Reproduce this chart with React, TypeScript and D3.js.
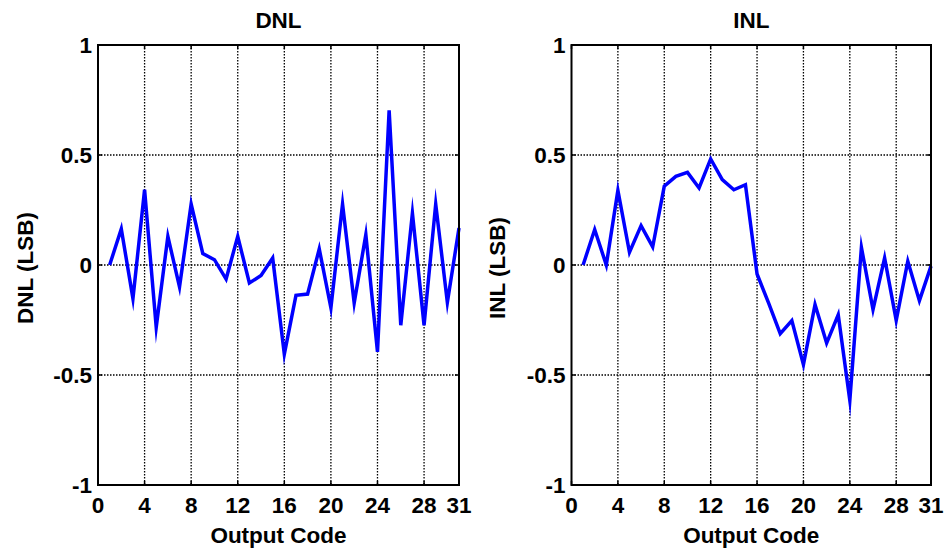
import React from "react";
import * as d3 from "d3";

const codes: number[] = d3.range(1, 32);
const dnlValues: number[] = [
  0, 0.164, -0.153, 0.342, -0.283, 0.13, -0.1, 0.277, 0.052, 0.024,
  -0.064, 0.13, -0.082, -0.048, 0.032, -0.405, -0.138, -0.132, 0.073, -0.195,
  0.277, -0.173, 0.138, -0.395, 0.703, -0.274, 0.236, -0.274, 0.277, -0.17, 0.168,
];
const inlValues: number[] = [
  0, 0.161, 0, 0.339, 0.058, 0.179, 0.082, 0.358, 0.403, 0.421,
  0.35, 0.482, 0.388, 0.342, 0.365, -0.041, -0.173, -0.312, -0.253, -0.453,
  -0.18, -0.355, -0.226, -0.615, 0.08, -0.203, 0.032, -0.252, 0.017, -0.162, -0.005,
];
const xTicks: number[] = [0, 4, 8, 12, 16, 20, 24, 28, 31];
const yTicks: number[] = [-1, -0.5, 0, 0.5, 1];
const xDomain: [number, number] = [0, 31];
const yDomain: [number, number] = [-1, 1];

const FONT = "'Liberation Sans', Arial, Helvetica, sans-serif";
const FS = 22.5;

type PanelProps = {
  title: string;
  yLabel: string;
  values: number[];
  left: number;
  right: number;
  top: number;
  bottom: number;
  yLabelX: number;
};

function Panel({ title, yLabel, values, left, right, top, bottom, yLabelX }: PanelProps) {
  const x = d3.scaleLinear().domain(xDomain).range([left, right]);
  const y = d3.scaleLinear().domain(yDomain).range([bottom, top]);
  const line = d3
    .line<number>()
    .x((_, i) => x(codes[i]))
    .y((d) => y(d));
  const tickLen = 4;
  const fmt = (v: number) => (v === 0 ? "0" : String(v));
  return (
    <g>
      {xTicks
        .filter((t) => t > xDomain[0] && t < xDomain[1])
        .map((t) => (
          <line key={"gx" + t} x1={x(t)} x2={x(t)} y1={top} y2={bottom} stroke="#000" strokeWidth={1.3} strokeDasharray="1.5,1.5" />
        ))}
      {yTicks
        .filter((t) => t > yDomain[0] && t < yDomain[1])
        .map((t) => (
          <line key={"gy" + t} x1={left} x2={right} y1={y(t)} y2={y(t)} stroke="#000" strokeWidth={1.3} strokeDasharray="1.5,1.5" />
        ))}
      {xTicks.map((t) => (
        <g key={"tx" + t}>
          <line x1={x(t)} x2={x(t)} y1={bottom} y2={bottom - tickLen} stroke="#000" strokeWidth={1.5} />
          <line x1={x(t)} x2={x(t)} y1={top} y2={top + tickLen} stroke="#000" strokeWidth={1.5} />
          <text x={x(t)} y={bottom + 28} textAnchor="middle" fontFamily={FONT} fontWeight="bold" fontSize={FS} fill="#000">
            {t}
          </text>
        </g>
      ))}
      {yTicks.map((t) => (
        <g key={"ty" + t}>
          <line x1={left} x2={left + tickLen} y1={y(t)} y2={y(t)} stroke="#000" strokeWidth={1.5} />
          <line x1={right} x2={right - tickLen} y1={y(t)} y2={y(t)} stroke="#000" strokeWidth={1.5} />
          <text x={left - 6} y={y(t)} dy="0.36em" textAnchor="end" fontFamily={FONT} fontWeight="bold" fontSize={FS} fill="#000">
            {fmt(t)}
          </text>
        </g>
      ))}
      <path d={line(values) || ""} fill="none" stroke="#0000ff" strokeWidth={3.5} strokeLinejoin="miter" strokeMiterlimit={10} />
      <rect x={left} y={top} width={right - left} height={bottom - top} fill="none" stroke="#000" strokeWidth={2} />
      <text x={(left + right) / 2} y={28} textAnchor="middle" fontFamily={FONT} fontWeight="bold" fontSize={FS} fill="#000">
        {title}
      </text>
      <text x={(left + right) / 2} y={543} textAnchor="middle" fontFamily={FONT} fontWeight="bold" fontSize={FS} fill="#000">
        Output Code
      </text>
      <text
        transform={`translate(${yLabelX},${(top + bottom) / 2 + 3}) rotate(-90)`}
        textAnchor="middle"
        fontFamily={FONT}
        fontWeight="bold"
        fontSize={FS}
        fill="#000"
      >
        {yLabel}
      </text>
    </g>
  );
}

export default function App() {
  return (
    <svg width={945} height={548} style={{ position: "absolute", left: 0, top: 0, background: "#fff" }}>
      <rect x={0} y={0} width={945} height={548} fill="#fff" />
      <Panel title="DNL" yLabel="DNL (LSB)" values={dnlValues} left={98} right={459} top={45} bottom={485} yLabelX={33} />
      <Panel title="INL" yLabel="INL (LSB)" values={inlValues} left={571.5} right={931} top={45} bottom={485} yLabelX={505} />
    </svg>
  );
}
